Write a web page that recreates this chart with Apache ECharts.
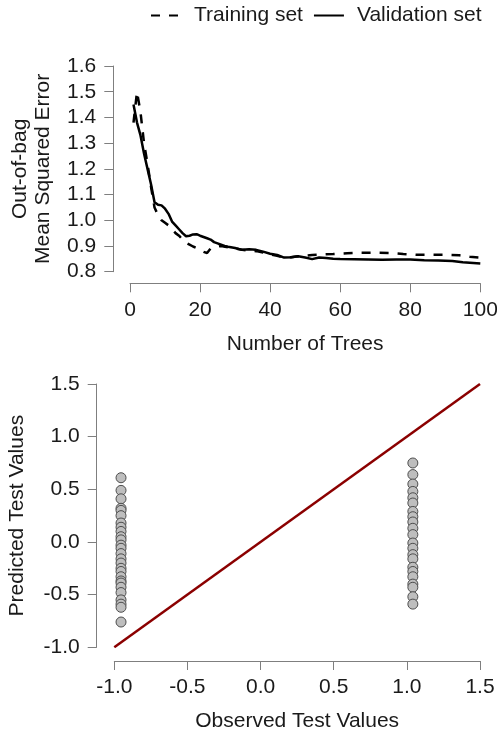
<!DOCTYPE html>
<html lang="en">
<head>
    <meta charset="UTF-8">
    <title>Out-of-bag MSE and predicted vs observed</title>
    <script src="https://cdn.jsdelivr.net/npm/echarts/dist/echarts.min.js"></script>
    <style>
        html, body { margin: 0; padding: 0; background: #fff; }
        #main { width: 497px; height: 735px; }
    </style>
</head>
<body>
<div id="main"></div>
<script>
    // top panel: out-of-bag error by number of trees
    const trainTrees = [1, 2, 3, 4, 5, 6, 7, 8, 9, 10, 11, 12, 13, 14, 15, 16, 17, 18, 19, 20, 21, 22, 23, 24, 26, 28, 30, 32, 34, 36, 38, 40, 42, 44, 46, 48, 50, 52, 55, 58, 62, 66, 70, 74, 78, 82, 86, 90, 94, 97, 100];
    const trainMSE = [1.38, 1.50, 1.42, 1.30, 1.22, 1.13, 1.05, 1.02, 1.00, 0.99, 0.98, 0.965, 0.95, 0.94, 0.925, 0.912, 0.905, 0.898, 0.892, 0.885, 0.877, 0.873, 0.89, 0.895, 0.90, 0.895, 0.89, 0.885, 0.882, 0.88, 0.875, 0.868, 0.862, 0.855, 0.856, 0.86, 0.862, 0.865, 0.867, 0.869, 0.872, 0.874, 0.874, 0.873, 0.869, 0.866, 0.866, 0.866, 0.864, 0.858, 0.855];

    const validTrees = [1, 2, 3, 4, 5, 6, 7, 8, 9, 10, 11, 12, 13, 14, 15, 16, 17, 18, 19, 20, 21, 22, 23, 24, 25, 26, 27, 28, 30, 32, 34, 36, 38, 40, 42, 44, 46, 48, 50, 52, 54, 56, 58, 60, 64, 68, 72, 76, 80, 84, 88, 92, 95, 98, 100];
    const validMSE = [1.45, 1.38, 1.33, 1.26, 1.20, 1.14, 1.07, 1.06, 1.058, 1.045, 1.025, 0.995, 0.98, 0.965, 0.95, 0.938, 0.94, 0.945, 0.946, 0.94, 0.935, 0.93, 0.925, 0.915, 0.91, 0.905, 0.90, 0.897, 0.892, 0.885, 0.887, 0.885, 0.878, 0.87, 0.865, 0.855, 0.856, 0.86, 0.855, 0.849, 0.855, 0.853, 0.85, 0.849, 0.848, 0.847, 0.846, 0.847, 0.847, 0.845, 0.844, 0.842, 0.837, 0.834, 0.832];

    // bottom panel: predicted vs observed test values
    const obsLow = -0.954;
    const obsHigh = 1.041;
    const predLow = [0.61, 0.49, 0.41, 0.32, 0.30, 0.25, 0.18, 0.14, 0.10, 0.05, 0.02, -0.03, -0.06, -0.11, -0.16, -0.20, -0.25, -0.28, -0.33, -0.37, -0.39, -0.43, -0.48, -0.55, -0.59, -0.62, -0.76];
    const predHigh = [0.75, 0.64, 0.55, 0.48, 0.42, 0.37, 0.29, 0.24, 0.19, 0.13, 0.07, -0.01, -0.06, -0.12, -0.16, -0.24, -0.28, -0.33, -0.40, -0.43, -0.52, -0.59];
    const refLine = [-1, 1.5];

    const FONT = 'Liberation Sans';
    const FS = 21;
    const TXT = '#1a1a1a';
    const AX = '#7f7f7f';

    function axisCommon(min, max, interval, offset) {
        return {
            type: 'value',
            min: min,
            max: max,
            interval: interval,
            offset: offset,
            axisLine: { show: true, onZero: false, lineStyle: { color: AX, width: 1 } },
            axisTick: { show: true, length: 9, lineStyle: { color: AX } },
            splitLine: { show: false },
            nameLocation: 'middle',
            nameTextStyle: { color: TXT, fontFamily: FONT, fontSize: FS, lineHeight: 23 }
        };
    }

    const chart = echarts.init(document.getElementById('main'), null, { renderer: 'canvas' });

    const option = {
        animation: false,
        backgroundColor: '#fff',
        textStyle: { fontFamily: FONT },
        legend: {
            left: 150,
            top: 5,
            padding: 0,
            itemWidth: 30,
            itemHeight: 14,
            itemGap: 10,
            itemStyle: { opacity: 0 },
            data: ['Training set', 'Validation set'],
            textStyle: { color: TXT, fontFamily: FONT, fontSize: FS, padding: [0, 0, 0, 8] }
        },
        grid: [
            { left: 130, right: 16.7, top: 66, bottom: 463.3, outerBoundsMode: 'none' },
            { left: 114.3, right: 17, top: 384, bottom: 87.7, outerBoundsMode: 'none' }
        ],
        xAxis: [
            Object.assign(axisCommon(0, 100, 20, 11.6), {
                gridIndex: 0, position: 'bottom',
                name: 'Number of Trees', nameGap: 49,
                axisLabel: { color: TXT, fontFamily: FONT, fontSize: FS, margin: 16 }
            }),
            Object.assign(axisCommon(-1, 1.5, 0.5, 13.7), {
                gridIndex: 1, position: 'bottom',
                name: 'Observed Test Values', nameGap: 49,
                axisLabel: { color: TXT, fontFamily: FONT, fontSize: FS, margin: 16, formatter: v => v.toFixed(1) }
            })
        ],
        yAxis: [
            Object.assign(axisCommon(0.8, 1.6, 0.1, 16.7), {
                gridIndex: 0, position: 'left',
                name: 'Out-of-bag\nMean Squared Error', nameGap: 59, nameRotate: 90,
                axisLabel: { color: TXT, fontFamily: FONT, fontSize: FS, margin: 17, formatter: v => v.toFixed(1) }
            }),
            Object.assign(axisCommon(-1, 1.5, 0.5, 17.6), {
                gridIndex: 1, position: 'left',
                name: 'Predicted Test Values', nameGap: 68, nameRotate: 90,
                axisLabel: { color: TXT, fontFamily: FONT, fontSize: FS, margin: 17, formatter: v => v.toFixed(1) }
            })
        ],
        series: [
            {
                name: 'Training set',
                type: 'line',
                xAxisIndex: 0, yAxisIndex: 0,
                data: trainTrees.map((t, i) => [t, trainMSE[i]]),
                symbol: 'none',
                lineStyle: { color: '#000', width: 2.5, type: [9, 9] },
                itemStyle: { color: '#000' }
            },
            {
                name: 'Validation set',
                type: 'line',
                xAxisIndex: 0, yAxisIndex: 0,
                data: validTrees.map((t, i) => [t, validMSE[i]]),
                symbol: 'none',
                lineStyle: { color: '#000', width: 2.5 },
                itemStyle: { color: '#000' }
            },
            {
                name: 'identity',
                type: 'line',
                xAxisIndex: 1, yAxisIndex: 1,
                data: refLine.map(v => [v, v]),
                symbol: 'none',
                lineStyle: { color: '#8b0000', width: 2.5 },
                z: 1
            },
            {
                name: 'predLow',
                type: 'scatter',
                xAxisIndex: 1, yAxisIndex: 1,
                data: predLow.map(v => [obsLow, v]),
                symbolSize: 10,
                itemStyle: { color: '#bebebe', borderColor: '#4d4d4d', borderWidth: 1, opacity: 1 },
                z: 3
            },
            {
                name: 'predHigh',
                type: 'scatter',
                xAxisIndex: 1, yAxisIndex: 1,
                data: predHigh.map(v => [obsHigh, v]),
                symbolSize: 10,
                itemStyle: { color: '#bebebe', borderColor: '#4d4d4d', borderWidth: 1, opacity: 1 },
                z: 3
            }
        ]
    };

    chart.setOption(option);
</script>
</body>
</html>
